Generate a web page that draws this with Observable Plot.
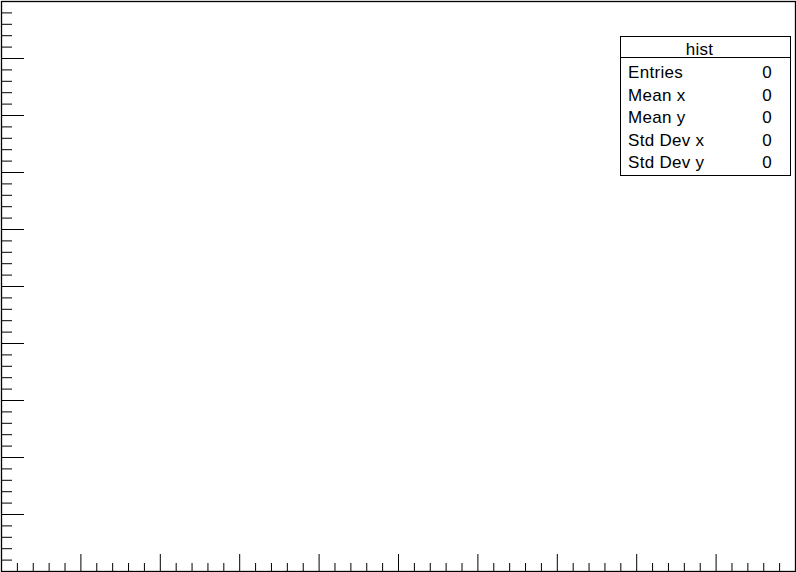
<!DOCTYPE html>
<html>
<head>
<meta charset="utf-8">
<script src="https://cdn.jsdelivr.net/npm/d3@7"></script>
<script src="https://cdn.jsdelivr.net/npm/@observablehq/plot@0.6"></script>
<style>
  html, body { margin: 0; padding: 0; background: #fff; }
  #wrap { position: relative; width: 796px; height: 572px; }
  #wrap svg { display: block; }
  #stats {
    position: absolute; box-sizing: border-box;
    left: 620px; top: 36px; width: 171px; height: 140px;
    border: 1px solid #000; background: #fff;
    font-family: "Liberation Sans", Arial, Helvetica, sans-serif;
    font-size: 17px; letter-spacing: 0.3px; color: #000;
  }
  #stats .head { height: 20px; line-height: 25px; text-align: center; padding-right: 12px; border-bottom: 1px solid #000; overflow: visible; }
  #stats .rows { padding-top: 4px; }
  #stats .row { height: 22.6px; line-height: 22.6px; position: relative; }
  #stats .lab { position: absolute; left: 7px; }
  #stats .val { position: absolute; right: 18px; }
</style>
</head>
<body>
<div id="wrap"></div>
<script>
// Histogram title and statistics (empty histogram)
const histTitle = "hist";
const statLabels = ["Entries", "Mean x", "Mean y", "Std Dev x", "Std Dev y"];
const statValues = [0, 0, 0, 0, 0];

// Axis ranges (no tick labels shown)
const xDomain = [0, 10];
const yDomain = [0, 10];

// Tick positions
const xMajorTicks = [1, 2, 3, 4, 5, 6, 7, 8, 9];
const xMinorTicks = [0.2, 0.4, 0.6, 0.8, 1.2, 1.4, 1.6, 1.8, 2.2, 2.4, 2.6, 2.8,
  3.2, 3.4, 3.6, 3.8, 4.2, 4.4, 4.6, 4.8, 5.2, 5.4, 5.6, 5.8, 6.2, 6.4, 6.6, 6.8,
  7.2, 7.4, 7.6, 7.8, 8.2, 8.4, 8.6, 8.8, 9.2, 9.4, 9.6, 9.8];
const yMajorTicks = [1, 2, 3, 4, 5, 6, 7, 8, 9];
const yMinorTicks = [0.2, 0.4, 0.6, 0.8, 1.2, 1.4, 1.6, 1.8, 2.2, 2.4, 2.6, 2.8,
  3.2, 3.4, 3.6, 3.8, 4.2, 4.4, 4.6, 4.8, 5.2, 5.4, 5.6, 5.8, 6.2, 6.4, 6.6, 6.8,
  7.2, 7.4, 7.6, 7.8, 8.2, 8.4, 8.6, 8.8, 9.2, 9.4, 9.6, 9.8];

const W = 796, H = 572;
const chart = Plot.plot({
  width: W, height: H,
  marginTop: 1, marginLeft: 1, marginRight: 1, marginBottom: 1,
  x: { domain: xDomain, axis: null },
  y: { domain: yDomain, axis: null },
  marks: [
    Plot.tickX(xMajorTicks, { x: d => d, insetTop: 553, stroke: "#000", strokeWidth: 1 }),
    Plot.tickX(xMinorTicks, { x: d => d, insetTop: 562, stroke: "#000", strokeWidth: 1 }),
    Plot.tickY(yMajorTicks, { y: d => d, insetRight: 771, stroke: "#000", strokeWidth: 1 }),
    Plot.tickY(yMinorTicks, { y: d => d, insetRight: 783, stroke: "#000", strokeWidth: 1 }),
    Plot.frame({ stroke: "#000", strokeWidth: 1.3 })
  ]
});
const wrap = document.getElementById("wrap");
wrap.appendChild(chart);

// Statistics box
const stats = document.createElement("div");
stats.id = "stats";
const head = document.createElement("div");
head.className = "head";
head.textContent = histTitle;
stats.appendChild(head);
const rows = document.createElement("div");
rows.className = "rows";
statLabels.forEach((lab, i) => {
  const r = document.createElement("div");
  r.className = "row";
  const l = document.createElement("span"); l.className = "lab"; l.textContent = lab;
  const v = document.createElement("span"); v.className = "val"; v.textContent = String(statValues[i]);
  r.appendChild(l); r.appendChild(v);
  rows.appendChild(r);
});
stats.appendChild(rows);
wrap.appendChild(stats);
</script>
</body>
</html>
